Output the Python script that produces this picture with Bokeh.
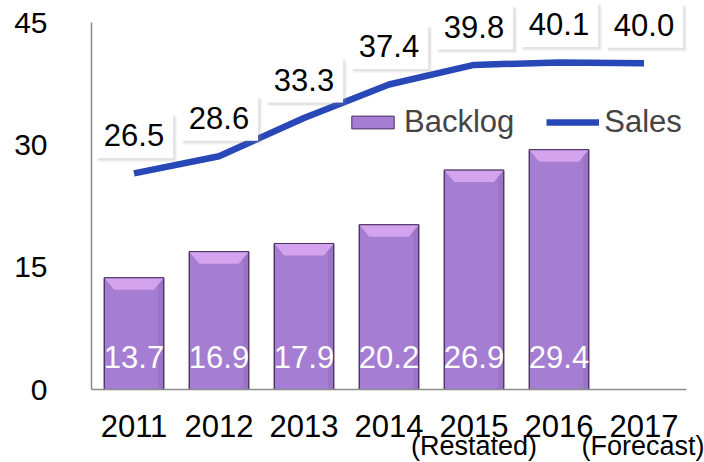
from bokeh.plotting import figure
from bokeh.models import (Range1d, FixedTicker, LinearAxis, Legend, LegendItem)
from bokeh.core.properties import value
from bokeh.embed import file_html
from bokeh.resources import INLINE

# ---- data ----
years = ["2011", "2012", "2013", "2014", "2015", "2016", "2017"]
backlog = [13.7, 16.9, 17.9, 20.2, 26.9, 29.4]
sales = [26.5, 28.6, 33.3, 37.4, 39.8, 40.1, 40.0]
notes = {"2015": "(Restated)", "2017": "(Forecast)"}
y_ticks = [0, 15, 30, 45]

FONT = "Liberation Sans"
FRAME_W = 595
Y_AXIS_MAX = 45
px_per_unit = 367 / Y_AXIS_MAX          # 45 units span 367 px
FRAME_H = 386
Y_TOP = FRAME_H / px_per_unit           # frame extends a bit above 45
px_per_cat = FRAME_W / len(years)

p = figure(output_backend="svg", toolbar_location=None,
           frame_width=FRAME_W, frame_height=FRAME_H,
           min_border_left=91, min_border_right=18, min_border_top=3,
           min_border_bottom=73,
           x_range=Range1d(-0.5, len(years) - 0.5), y_range=Range1d(0, Y_TOP))
p.outline_line_color = None
p.xgrid.visible = False
p.ygrid.visible = False
p.background_fill_color = "white"
p.border_fill_color = "white"

xs = list(range(len(years)))
bx = xs[:len(backlog)]

# ---- bars ----
BAR_W = 0.70
bars = p.vbar(x=bx, top=backlog, width=BAR_W, bottom=0,
              fill_color="#A57DD2", line_color="#4A3060", line_width=1)
# subtle right side shading
p.vbar(x=[x + BAR_W / 2 - 0.035 for x in bx], top=[v - 0.3 for v in backlog],
       width=0.06, bottom=0.1, fill_color="#8A64B0", fill_alpha=0.35, line_color=None)
# bevel on top
ix = 10 / px_per_cat
iy = 12 / px_per_unit
bev_x, bev_y = [], []
for x, v in zip(bx, backlog):
    h = BAR_W / 2
    bev_x.append([x - h, x + h, x + h - ix, x - h + ix])
    bev_y.append([v, v, v - iy, v - iy])
p.patches(bev_x, bev_y, fill_color="#D3A3EE", line_color=None)
p.vbar(x=bx, top=backlog, width=BAR_W, bottom=0, fill_color=None,
       line_color="#4A3060", line_width=1)

# bar value labels
p.text(x=bx, y=[4.0] * len(bx), text=[f"{v:.1f}" for v in backlog],
       text_color="white", text_font=value(FONT), text_font_size="31px",
       text_align="center", text_baseline="middle")

# ---- sales line ----
line = p.line(x=xs, y=sales, line_color="#2848B8", line_width=6.5)

# sales label boxes
off = 38 / px_per_unit
box_y = [s + off for s in sales]
for dx, a in ((4, 0.08), (2.5, 0.15)):
    p.rect(x=[x + dx / px_per_cat for x in xs], y=[b - dx / px_per_unit for b in box_y],
           width=0.92, height=45, height_units="screen",
           fill_color="#808080", fill_alpha=a, line_color=None)
p.rect(x=xs, y=box_y, width=0.92, height=45, height_units="screen",
       fill_color="white", line_color=None)
p.text(x=xs, y=box_y, text=[f"{s:.1f}" for s in sales],
       text_color="black", text_font=value(FONT), text_font_size="31px",
       text_align="center", text_baseline="middle")

# ---- axes ----
p.yaxis.ticker = FixedTicker(ticks=y_ticks)
p.yaxis.bounds = (0, Y_AXIS_MAX)
p.yaxis.major_tick_line_color = None
p.yaxis.minor_tick_line_color = None
p.yaxis.axis_line_color = "#8C8C8C"
p.yaxis.axis_line_width = 1.5
p.yaxis.major_label_text_font = FONT
p.yaxis.major_label_text_font_size = "30px"
p.yaxis.major_label_text_color = "black"
p.yaxis.major_label_standoff = 38

p.xaxis.ticker = FixedTicker(ticks=xs)
p.xaxis.major_label_overrides = {i: y for i, y in enumerate(years)}
p.xaxis.major_tick_line_color = None
p.xaxis.minor_tick_line_color = None
p.xaxis.axis_line_color = "#8C8C8C"
p.xaxis.axis_line_width = 1.5
p.xaxis.major_label_text_font = FONT
p.xaxis.major_label_text_font_size = "31px"
p.xaxis.major_label_text_color = "black"
p.xaxis.major_label_standoff = 19

note_ticks = [years.index(k) for k in notes]
ax2 = LinearAxis(ticker=FixedTicker(ticks=note_ticks),
                 major_label_overrides={years.index(k): t for k, t in notes.items()},
                 axis_line_color=None, major_tick_line_color=None,
                 minor_tick_line_color=None,
                 major_label_text_font=FONT, major_label_text_font_size="27px",
                 major_label_text_color="black", major_label_standoff=-15)
p.add_layout(ax2, "below")

# ---- legend ----
legend = Legend(items=[LegendItem(label="Backlog", renderers=[bars]),
                       LegendItem(label="Sales", renderers=[line])],
                orientation="horizontal", location=(255, 249),
                label_text_font=FONT, label_text_font_size="31px",
                glyph_width=53, glyph_height=16, spacing=32, label_standoff=5,
                padding=0, margin=0, background_fill_alpha=0,
                border_line_alpha=0)
p.add_layout(legend, "center")

open("out.html", "w").write(file_html(p, INLINE))
